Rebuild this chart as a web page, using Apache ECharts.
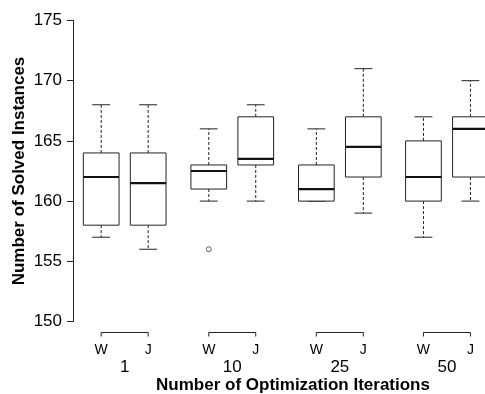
<!DOCTYPE html>
<html>
<head>
<meta charset="utf-8">
<script src="https://cdn.jsdelivr.net/npm/echarts@6/dist/echarts.min.js"></script>
<style>
  html, body { margin: 0; padding: 0; background: #fff; }
  #chart { width: 485px; height: 394px; }
</style>
</head>
<body>
<div id="chart"></div>
<script>
// iteration groups and the two methods in each group
var groups = ['1', '10', '25', '50'];
var methods = ['W', 'J'];
// box positions along x (W, J for each group)
var positions = [1, 2, 3.29, 4.29, 5.58, 6.58, 7.86, 8.86];
// box statistics, one entry per box
var lowWhisker  = [157, 156, 160, 160, 160, 159, 157, 160];
var q1          = [158, 158, 161, 163, 160, 162, 160, 162];
var median      = [162, 161.5, 162.5, 163.5, 161, 164.5, 162, 166];
var q3          = [164, 164, 163, 167, 163, 167, 165, 167];
var highWhisker = [168, 168, 166, 168, 166, 171, 167, 170];
// outliers: box index and value
var outlierBox = [2];
var outlierValue = [156];
// y axis ticks
var yTicks = [150, 155, 160, 165, 170, 175];

var font = 'Liberation Sans, Arial, Helvetica, sans-serif';

var boxData = positions.map(function(p, i) {
    return [p, lowWhisker[i], q1[i], median[i], q3[i], highWhisker[i]];
});
var outlierData = outlierBox.map(function(b, i) {
    return [positions[b], outlierValue[i]];
});
var bracketData = groups.map(function(g, i) {
    return [positions[2 * i], positions[2 * i + 1]];
});
var groupCenters = groups.map(function(g, i) {
    return (positions[2 * i] + positions[2 * i + 1]) / 2;
});

var chart = echarts.init(document.getElementById('chart'));

function renderBox(params, api) {
    var x = api.value(0);
    var half = api.size([0.76, 0])[0] / 2;
    var cap = half / 2;
    var cx = api.coord([x, 0])[0];
    var yLow = api.coord([x, api.value(1)])[1];
    var yQ1 = api.coord([x, api.value(2)])[1];
    var yMed = api.coord([x, api.value(3)])[1];
    var yQ3 = api.coord([x, api.value(4)])[1];
    var yHigh = api.coord([x, api.value(5)])[1];
    var solid = { stroke: '#222', lineWidth: 1, fill: null };
    var dashed = { stroke: '#222', lineWidth: 1, lineDash: [3, 2] };
    return {
        type: 'group',
        children: [
            { type: 'line', shape: { x1: cx, y1: yQ3, x2: cx, y2: yHigh }, style: dashed },
            { type: 'line', shape: { x1: cx, y1: yQ1, x2: cx, y2: yLow }, style: dashed },
            { type: 'line', shape: { x1: cx - cap, y1: yHigh, x2: cx + cap, y2: yHigh }, style: solid },
            { type: 'line', shape: { x1: cx - cap, y1: yLow, x2: cx + cap, y2: yLow }, style: solid },
            { type: 'rect', shape: { x: cx - half, y: yQ3, width: half * 2, height: yQ1 - yQ3 }, style: { stroke: '#222', lineWidth: 1, fill: '#fff' } },
            { type: 'line', shape: { x1: cx - half, y1: yMed, x2: cx + half, y2: yMed }, style: { stroke: '#111', lineWidth: 2.2 } }
        ]
    };
}

function renderBracket(params, api) {
    var x1 = api.coord([api.value(0), 0])[0];
    var x2 = api.coord([api.value(1), 0])[0];
    var yb = params.coordSys.y + params.coordSys.height + 11;
    return {
        type: 'polyline',
        shape: { points: [[x1, yb + 4], [x1, yb], [x2, yb], [x2, yb + 4]] },
        style: { stroke: '#222', lineWidth: 1, fill: null }
    };
}

var option = {
    backgroundColor: '#fff',
    animation: false,
    grid: { left: 73, right: 0, top: 20.5, bottom: 72.5, outerBoundsMode: 'none', containLabel: false },
    xAxis: [
        {
            type: 'value',
            min: 0.4,
            max: 9.17,
            axisLine: { show: false },
            axisTick: { show: false },
            splitLine: { show: false },
            axisLabel: {
                customValues: positions,
                margin: 22,
                color: '#000',
                fontFamily: font,
                fontSize: 14,
                formatter: function(v) {
                    var i = positions.indexOf(v);
                    return i < 0 ? '' : methods[i % 2];
                }
            }
        },
        {
            type: 'value',
            position: 'bottom',
            min: 0.4,
            max: 9.17,
            axisLine: { show: false },
            axisTick: { show: false },
            splitLine: { show: false },
            axisLabel: {
                customValues: groupCenters,
                margin: 37,
                color: '#000',
                fontFamily: font,
                fontSize: 17,
                formatter: function(v) {
                    var i = groupCenters.indexOf(v);
                    return i < 0 ? '' : groups[i];
                }
            },
            name: 'Number of Optimization Iterations',
            nameLocation: 'middle',
            nameGap: 55,
            nameMoveOverlap: false,
            nameTextStyle: {
                color: '#000',
                fontFamily: font,
                fontWeight: 'bold',
                fontSize: 17,
                padding: [0, 0, 0, 28]
            }
        }
    ],
    yAxis: {
        type: 'value',
        min: yTicks[0],
        max: yTicks[yTicks.length - 1],
        interval: 5,
        axisLine: { show: true, lineStyle: { color: '#222', width: 1 } },
        axisTick: { show: true, length: 6, lineStyle: { color: '#222' } },
        splitLine: { show: false },
        axisLabel: { margin: 11, color: '#000', fontFamily: font, fontSize: 17 },
        name: 'Number of Solved Instances',
        nameLocation: 'middle',
        nameGap: 45,
        nameMoveOverlap: false,
        nameTextStyle: { color: '#000', fontFamily: font, fontWeight: 'bold', fontSize: 17 }
    },
    series: [
        {
            type: 'custom',
            xAxisIndex: 0,
            clip: false,
            renderItem: renderBox,
            encode: { x: 0, y: [1, 2, 3, 4, 5] },
            data: boxData
        },
        {
            type: 'custom',
            xAxisIndex: 0,
            clip: false,
            renderItem: renderBracket,
            encode: { x: [0, 1] },
            data: bracketData
        },
        {
            type: 'scatter',
            xAxisIndex: 0,
            symbol: 'circle',
            symbolSize: 5,
            itemStyle: { color: '#fff', borderColor: '#222', borderWidth: 0.9 },
            data: outlierData
        }
    ]
};

chart.setOption(option);
</script>
</body>
</html>
